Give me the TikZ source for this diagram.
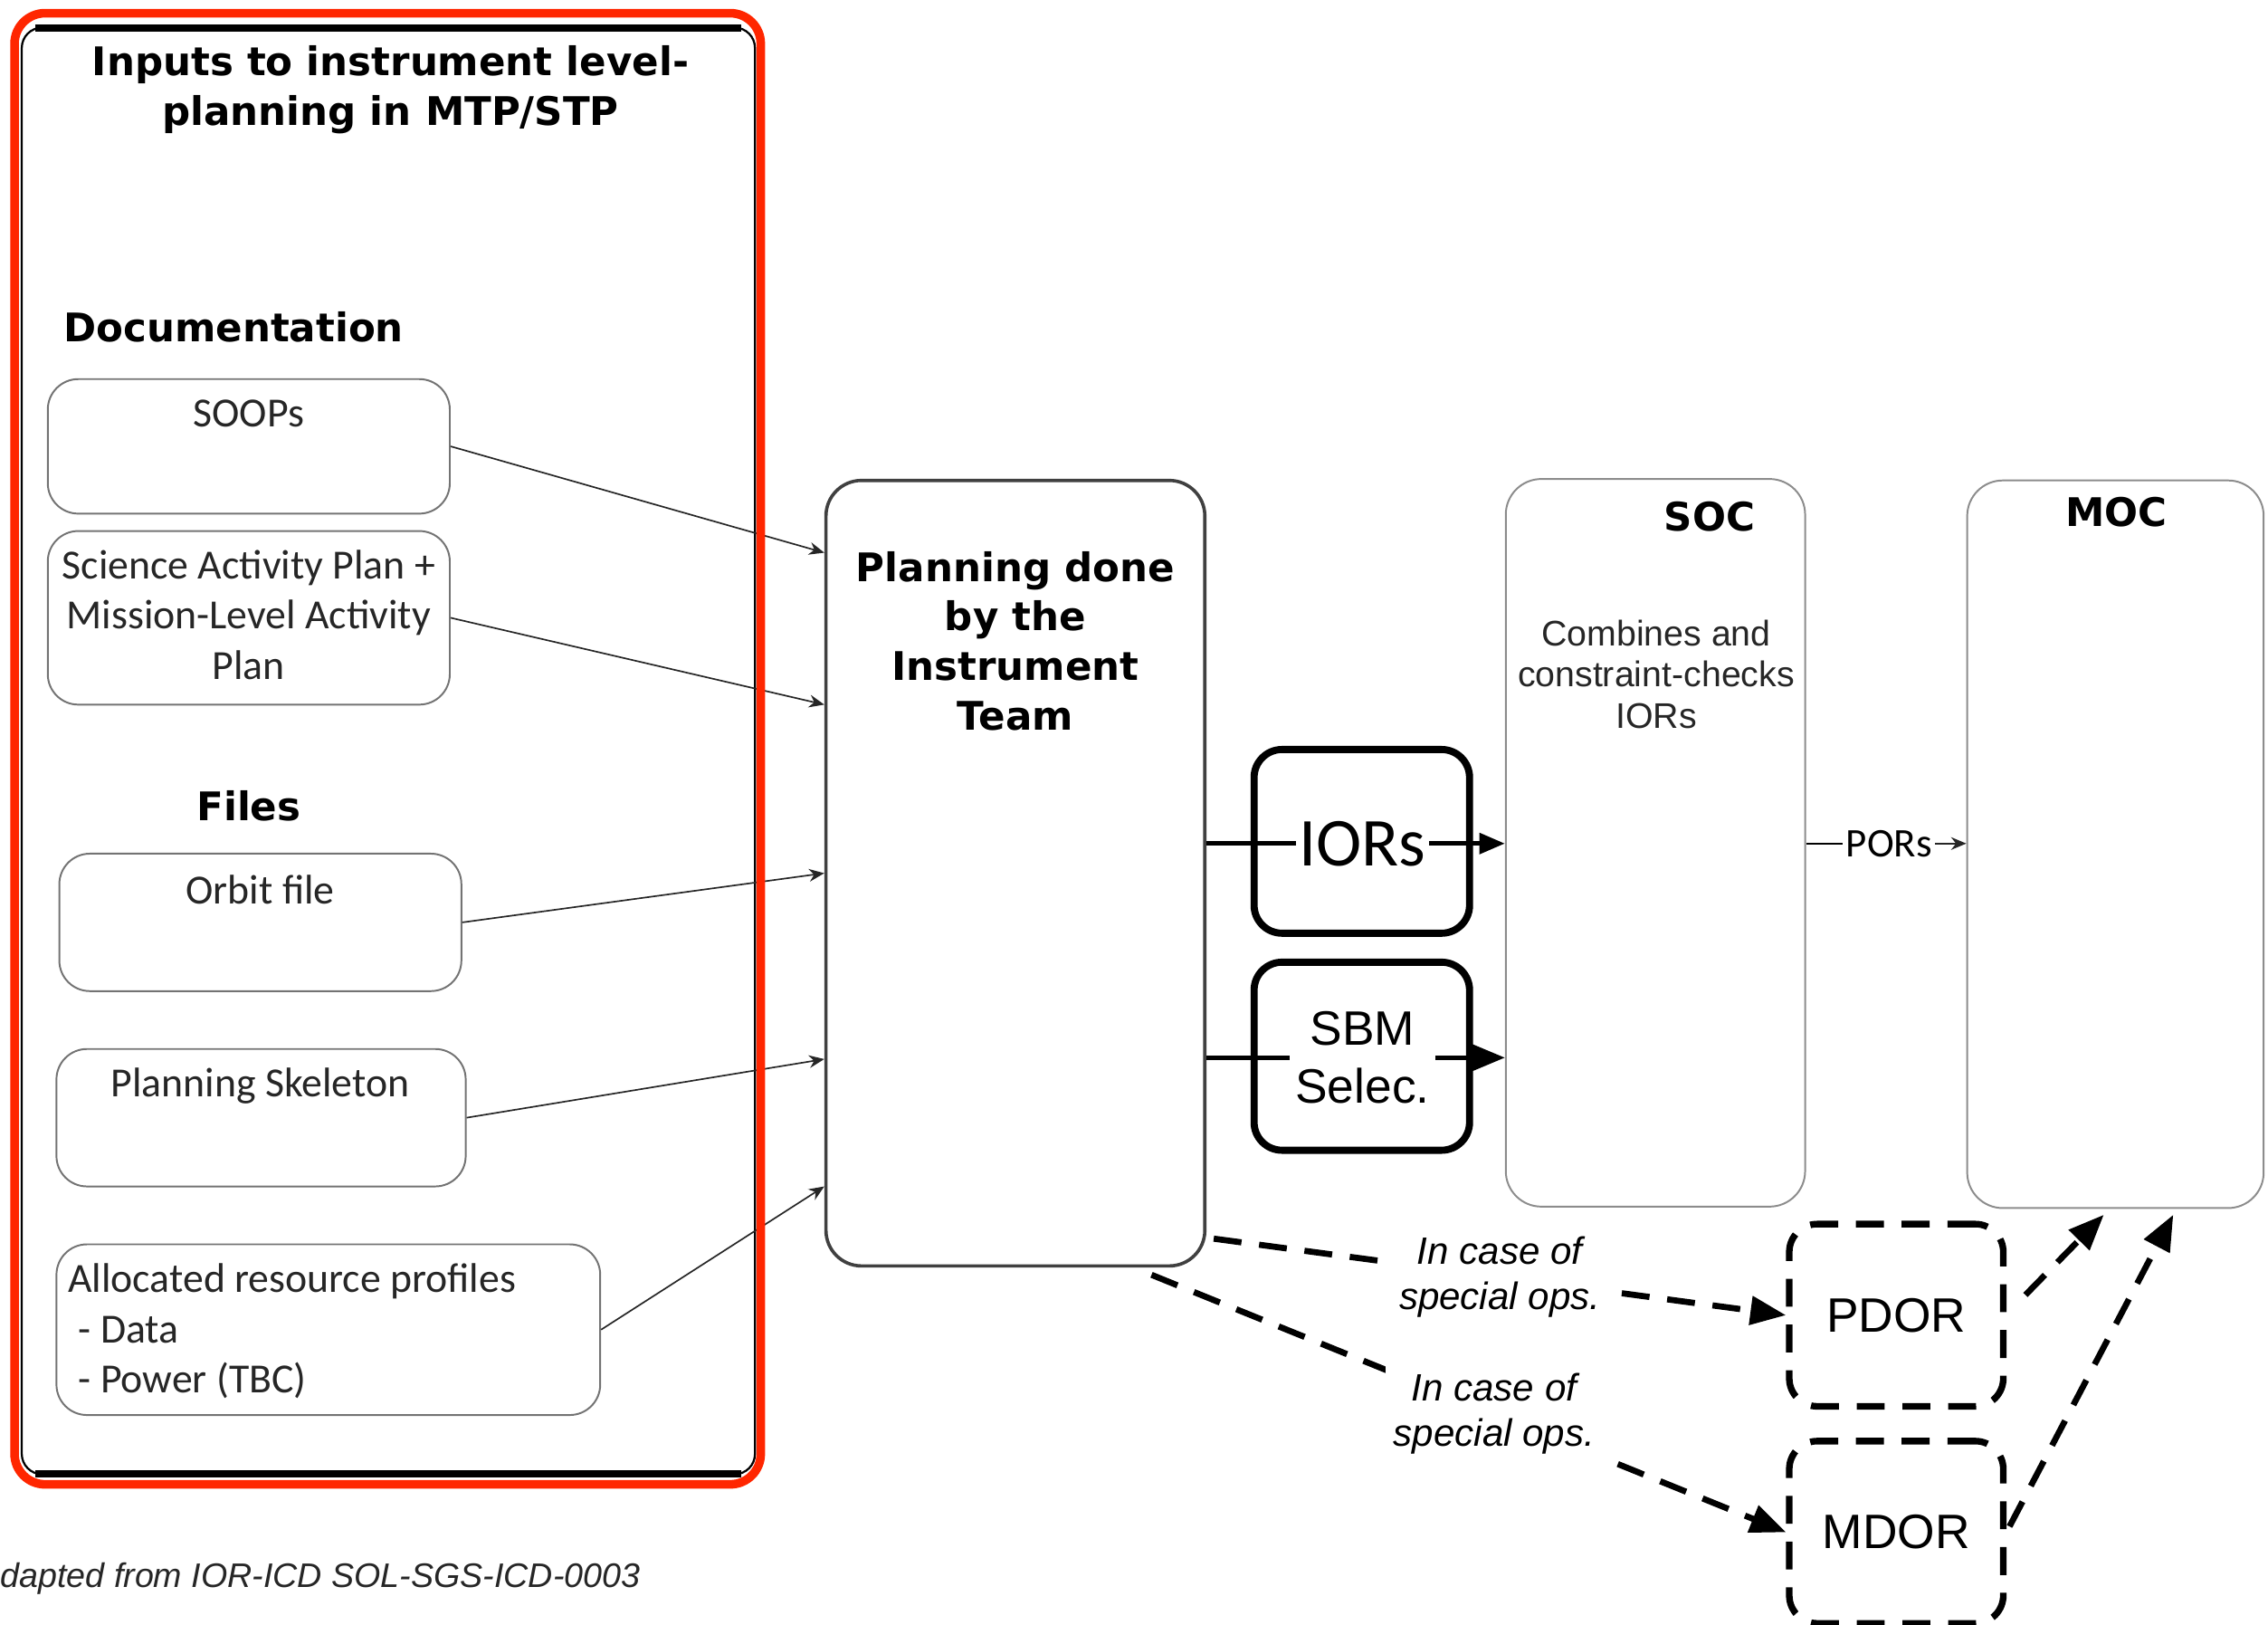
\documentclass[tikz,border=0pt]{standalone}
\usepackage{fontspec}
\setmainfont{Liberation Sans}
\newfontfamily\dejavu{DejaVu Sans}
\newfontfamily\carlito{Carlito}
\usetikzlibrary{arrows.meta, calc}
\definecolor{hilite}{HTML}{FF2600}
\tikzstyle{heading} = [font=\dejavu\bfseries\fontsize{15.5}{19.5}\selectfont, inner sep=1pt]
\tikzstyle{doctext} = [font=\carlito\fontsize{16.3}{19.9}\selectfont, text=black!85, inner sep=1pt]
\tikzstyle{docbox} = [rectangle, rounded corners=12pt, draw=black!55, line width=0.7pt]
\tikzstyle{planbox} = [rectangle, rounded corners=14pt, draw=black!75, line width=1.3pt]
\tikzstyle{orgbox} = [rectangle, rounded corners=14pt, draw=black!45, line width=0.7pt]
\tikzstyle{solidbox} = [rectangle, rounded corners=11pt, draw=black, line width=2.8pt]
\tikzstyle{dashbox} = [rectangle, rounded corners=11pt, draw=black, line width=2.6pt, dash pattern=on 11pt off 7pt, font=\fontsize{19}{23}\selectfont]
\tikzstyle{arrow} = [black!85, line width=0.6pt, -{Stealth[length=6pt, width=5pt]}]
\tikzstyle{boldline} = [line width=1.8pt]
\tikzstyle{dasharrow} = [line width=2.4pt, dash pattern=on 11pt off 7pt, -{Triangle[length=14pt, width=11pt]}]
\tikzstyle{note} = [font=\itshape\fontsize{15}{17.6}\selectfont, align=center, fill=white, inner sep=3pt]
\begin{document}
\begin{tikzpicture}[x=0.02cm, y=-0.02cm]
\useasboundingbox (0,0) rectangle (1568,1123);

% Inputs column
\node (frame) at (268.5,519) [rectangle, rounded corners=8pt, draw=black, line width=0.8pt, minimum width=10.14cm, minimum height=20cm] {};
\draw [line width=3pt] ($(frame.north west)+(10,1)$) -- ($(frame.north east)+(-10,1)$);
\draw [line width=3pt] ($(frame.south west)+(10,-1)$) -- ($(frame.south east)+(-10,-1)$);
\node (title) at (270,62) [heading, align=center] {Inputs to instrument level-\\planning in MTP/STP};

\node (doclbl) at (42,226) [heading, anchor=west] {Documentation};
\node (soops) at (172,308.5) [docbox, minimum width=5.56cm, minimum height=1.86cm] {};
\node (soopstxt) at (172,295) [doctext, anchor=base] {SOOPs};
\node (sap) at (172,427) [docbox, minimum width=5.56cm, minimum height=2.4cm] {};
\node (saptxt) at (172,425) [doctext, align=center] {Science Activity Plan +\\Mission-Level Activity\\Plan};

\node (fileslbl) at (172,557) [heading] {Files};
\node (orbit) at (180,637.5) [docbox, minimum width=5.56cm, minimum height=1.9cm] {};
\node (orbittxt) at (180,625) [doctext, anchor=base] {Orbit file};
\node (skeleton) at (180.5,772.5) [docbox, minimum width=5.66cm, minimum height=1.9cm] {};
\node (skeletontxt) at (180,758) [doctext, anchor=base] {Planning Skeleton};
\node (alloc) at (227,919) [docbox, minimum width=7.52cm, minimum height=2.36cm] {};
\node (alloctxt) at (45,920) [doctext, anchor=west, align=left] {Allocated resource profiles\\\hspace{0.25em}- Data\\\hspace{0.25em}- Power (TBC)};

% Planning and ground segment
\node (plan) at (702,603.5) [planbox, minimum width=5.24cm, minimum height=10.86cm] {};
\node (plantxt) at (702,443) [heading, align=center] {Planning done\\by the\\Instrument\\Team};

\node (iorbox) at (941.5,581.5) [solidbox, minimum width=2.98cm, minimum height=2.54cm] {};
\node (iors) at (942,583) [font=\carlito\fontsize{27}{30}\selectfont, inner sep=1pt] {IORs};
\node (sbmbox) at (941.5,730) [solidbox, minimum width=2.98cm, minimum height=2.6cm] {};
\node (sbm) at (942,731) [font=\fontsize{19}{22.8}\selectfont, align=center, inner sep=2pt] {SBM\\Selec.};

\node (soc) at (1144.5,582.5) [orgbox, minimum width=4.14cm, minimum height=10.06cm] {};
\node (soctxt) at (1182,357) [heading] {SOC};
\node (socdesc) at (1145,466) [font=\fontsize{14}{16.2}\selectfont, text=black!85, align=center] {Combines and\\constraint-checks\\IORs};
\node (pors) at (1306,583) [font=\carlito\fontsize{16}{19}\selectfont, inner sep=1pt] {PORs};

\node (moc) at (1462.5,583.5) [orgbox, minimum width=4.10cm, minimum height=10.06cm] {};
\node (moctxt) at (1463,354) [heading] {MOC};

\node (pdor) at (1311,909) [dashbox, minimum width=2.96cm, minimum height=2.52cm] {PDOR};
\node (mdor) at (1311,1059) [dashbox, minimum width=2.96cm, minimum height=2.52cm] {MDOR};

\node (credit) at (0,1091) [anchor=west, inner sep=0pt, text=black!85, font=\itshape\fontsize{13.4}{16}\selectfont] {dapted from IOR-ICD SOL-SGS-ICD-0003};

% Arrows
\draw [arrow] (soops.east) -- ($(plan.west)+(0,-221.5)$);
\draw [arrow] (sap.east) -- ($(plan.west)+(0,-116.5)$);
\draw [arrow] (orbit.east) -- (plan.west);
\draw [arrow] (skeleton.east) -- ($(plan.west)+(0,128.5)$);
\draw [arrow] (alloc.east) -- ($(plan.west)+(0,216.5)$);

\draw [boldline] (plan.east |- iors.west) -- (iors.west);
\draw [boldline, -{Triangle[length=10pt, width=8pt]}] (iors.east) -- (iors.east -| soc.west);
\draw [boldline] (plan.east |- sbm.west) -- (sbm.west);
\draw [boldline, -{Triangle[length=15pt, width=12pt]}] (sbm.east) -- (sbm.east -| soc.west);
\draw [line width=0.6pt] (soc.east |- pors.west) -- (pors.west);
\draw [arrow] (pors.east) -- (pors.east -| moc.west);

\draw [dasharrow] ($(plan.south east)+(5,-20)$) -- node[note, midway] (case1) {In case of\\special ops.} (pdor.west);
\draw [dasharrow] ($(plan.south east)+(-38,5)$) -- node[note, pos=0.54] (case2) {In case of\\special ops.} (mdor.west);
\draw [dasharrow] ($(pdor.east)+(13,-14)$) -- ($(moc.south)+(-8,4)$);
\draw [dasharrow] ($(mdor.east)+(2,-4)$) -- ($(moc.south)+(40,4)$);

% highlight
\node (focus) at (268,517.5) [rectangle, rounded corners=12pt, draw=hilite, line width=3.4pt, minimum width=10.32cm, minimum height=20.34cm] {};

\end{tikzpicture}
\end{document}
